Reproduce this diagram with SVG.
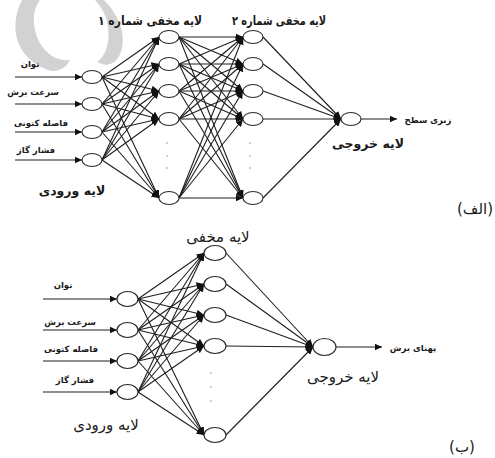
<svg xmlns="http://www.w3.org/2000/svg" width="495" height="458" viewBox="0 0 495 458">
  <style>
    .node { fill: #ffffff; stroke: #2a2a2a; stroke-width: 1.1; }
    .edge { stroke: #1e1e1e; stroke-width: 1.1; fill: none; marker-end: url(#arrow); }
    .lbl { font-family: "DejaVu Sans", "Noto Sans", sans-serif; fill: #1a1a1a; text-anchor: middle; }
    .small { font-size: 8.5px; font-weight: bold; }
    .layer { font-size: 12.5px; font-weight: bold; }
    .layerB { font-size: 15px; }
    .dot { fill: #c4c4c4; }
    .mark { fill: #d2d2d2; }
  </style>
  <defs>
    <marker id="arrow" markerUnits="userSpaceOnUse" markerWidth="8" markerHeight="7" refX="7.5" refY="3.5" orient="auto">
      <path d="M0,0 L7.5,3.5 L0,7 z" fill="#111"/>
    </marker>
  </defs>

  <rect width="495" height="458" fill="#ffffff"/>

  <!-- light logo shapes in the top-left corner -->
  <g id="logo">
    <path class="mark" d="M22,0 C8,28 16,58 48,70 C58,73 66,68 70,60 C50,62 36,44 34,24 C33,12 36,5 40,0 Z"/>
    <path class="mark" d="M104,0 C122,18 128,42 118,58 C112,66 104,66 97,62 C106,56 110,42 108,28 C107,16 102,8 95,0 Z"/>
  </g>

  <!-- ===================== network (a) ===================== -->
  <g id="connectors-a">
    <!-- input arrows -->
    <line class="edge" x1="15" y1="77" x2="82" y2="77"/>
    <line class="edge" x1="15" y1="104" x2="82" y2="104"/>
    <line class="edge" x1="15" y1="132" x2="82" y2="132"/>
    <line class="edge" x1="15" y1="160" x2="82" y2="160"/>
    <!-- input -> hidden 1 -->
    <line class="edge" x1="102" y1="77" x2="159" y2="37"/>
    <line class="edge" x1="102" y1="77" x2="159" y2="64"/>
    <line class="edge" x1="102" y1="77" x2="159" y2="91"/>
    <line class="edge" x1="102" y1="77" x2="159" y2="119"/>
    <line class="edge" x1="102" y1="77" x2="159" y2="198"/>
    <line class="edge" x1="102" y1="104" x2="159" y2="37"/>
    <line class="edge" x1="102" y1="104" x2="159" y2="64"/>
    <line class="edge" x1="102" y1="104" x2="159" y2="91"/>
    <line class="edge" x1="102" y1="104" x2="159" y2="119"/>
    <line class="edge" x1="102" y1="104" x2="159" y2="198"/>
    <line class="edge" x1="102" y1="132" x2="159" y2="37"/>
    <line class="edge" x1="102" y1="132" x2="159" y2="64"/>
    <line class="edge" x1="102" y1="132" x2="159" y2="91"/>
    <line class="edge" x1="102" y1="132" x2="159" y2="119"/>
    <line class="edge" x1="102" y1="132" x2="159" y2="198"/>
    <line class="edge" x1="102" y1="160" x2="159" y2="37"/>
    <line class="edge" x1="102" y1="160" x2="159" y2="64"/>
    <line class="edge" x1="102" y1="160" x2="159" y2="91"/>
    <line class="edge" x1="102" y1="160" x2="159" y2="119"/>
    <line class="edge" x1="102" y1="160" x2="159" y2="198"/>
    <!-- hidden 1 -> hidden 2 -->
    <line class="edge" x1="179" y1="37" x2="243" y2="37"/>
    <line class="edge" x1="179" y1="37" x2="243" y2="64"/>
    <line class="edge" x1="179" y1="37" x2="243" y2="91"/>
    <line class="edge" x1="179" y1="37" x2="243" y2="119"/>
    <line class="edge" x1="179" y1="37" x2="243" y2="198"/>
    <line class="edge" x1="179" y1="64" x2="243" y2="37"/>
    <line class="edge" x1="179" y1="64" x2="243" y2="64"/>
    <line class="edge" x1="179" y1="64" x2="243" y2="91"/>
    <line class="edge" x1="179" y1="64" x2="243" y2="119"/>
    <line class="edge" x1="179" y1="64" x2="243" y2="198"/>
    <line class="edge" x1="179" y1="91" x2="243" y2="37"/>
    <line class="edge" x1="179" y1="91" x2="243" y2="64"/>
    <line class="edge" x1="179" y1="91" x2="243" y2="91"/>
    <line class="edge" x1="179" y1="91" x2="243" y2="119"/>
    <line class="edge" x1="179" y1="91" x2="243" y2="198"/>
    <line class="edge" x1="179" y1="119" x2="243" y2="37"/>
    <line class="edge" x1="179" y1="119" x2="243" y2="64"/>
    <line class="edge" x1="179" y1="119" x2="243" y2="91"/>
    <line class="edge" x1="179" y1="119" x2="243" y2="119"/>
    <line class="edge" x1="179" y1="119" x2="243" y2="198"/>
    <line class="edge" x1="179" y1="198" x2="243" y2="37"/>
    <line class="edge" x1="179" y1="198" x2="243" y2="64"/>
    <line class="edge" x1="179" y1="198" x2="243" y2="91"/>
    <line class="edge" x1="179" y1="198" x2="243" y2="119"/>
    <line class="edge" x1="179" y1="198" x2="243" y2="198"/>
    <!-- hidden 2 -> output -->
    <line class="edge" x1="263" y1="37" x2="341" y2="119"/>
    <line class="edge" x1="263" y1="64" x2="341" y2="119"/>
    <line class="edge" x1="263" y1="91" x2="341" y2="119"/>
    <line class="edge" x1="263" y1="119" x2="341" y2="119"/>
    <line class="edge" x1="263" y1="198" x2="341" y2="119"/>
    <!-- output arrow -->
    <line class="edge" x1="361" y1="119" x2="397" y2="119"/>
  </g>

  <g id="a-in-1"><ellipse class="node" cx="92" cy="77" rx="10" ry="6.5"/><text class="lbl small" x="30" y="67">توان</text></g>
  <g id="a-in-2"><ellipse class="node" cx="92" cy="104" rx="10" ry="6.5"/><text class="lbl small" x="33" y="95">سرعت برش</text></g>
  <g id="a-in-3"><ellipse class="node" cx="92" cy="132" rx="10" ry="6.5"/><text class="lbl small" x="41" y="126">فاصله کتونی</text></g>
  <g id="a-in-4"><ellipse class="node" cx="92" cy="160" rx="10" ry="6.5"/><text class="lbl small" x="36" y="153">فشار گاز</text></g>

  <g id="a-h1-1"><ellipse class="node" cx="169" cy="37" rx="10" ry="6.5"/></g>
  <g id="a-h1-2"><ellipse class="node" cx="169" cy="64" rx="10" ry="6.5"/></g>
  <g id="a-h1-3"><ellipse class="node" cx="169" cy="91" rx="10" ry="6.5"/></g>
  <g id="a-h1-4"><ellipse class="node" cx="169" cy="119" rx="10" ry="6.5"/></g>
  <g id="a-h1-5"><ellipse class="node" cx="169" cy="198" rx="10" ry="6.5"/></g>
  <g id="a-h1-dots"><circle class="dot" cx="167" cy="143" r="1.1"/><circle class="dot" cx="167" cy="156" r="1.1"/><circle class="dot" cx="167" cy="168" r="1.1"/></g>

  <g id="a-h2-1"><ellipse class="node" cx="253" cy="37" rx="10" ry="6.5"/></g>
  <g id="a-h2-2"><ellipse class="node" cx="253" cy="64" rx="10" ry="6.5"/></g>
  <g id="a-h2-3"><ellipse class="node" cx="253" cy="91" rx="10" ry="6.5"/></g>
  <g id="a-h2-4"><ellipse class="node" cx="253" cy="119" rx="10" ry="6.5"/></g>
  <g id="a-h2-5"><ellipse class="node" cx="253" cy="198" rx="10" ry="6.5"/></g>
  <g id="a-h2-dots"><circle class="dot" cx="250" cy="143" r="1.1"/><circle class="dot" cx="250" cy="156" r="1.1"/><circle class="dot" cx="250" cy="168" r="1.1"/></g>

  <g id="a-out"><ellipse class="node" cx="351" cy="119" rx="10" ry="6.5"/><text class="lbl small" x="428" y="123">زبری سطح</text></g>

  <g id="a-labels">
    <text class="lbl layer" x="150" y="25" textLength="104" lengthAdjust="spacingAndGlyphs">لایه مخفی شماره ۱</text>
    <text class="lbl layer" x="279" y="25" textLength="94" lengthAdjust="spacingAndGlyphs">لایه مخفی شماره ۲</text>
    <text class="lbl layer" x="72" y="195">لایه ورودی</text>
    <text class="lbl layer" x="368" y="148">لایه خروجی</text>
    <text class="lbl layerB" x="475" y="214">(الف)</text>
  </g>

  <!-- ===================== network (b) ===================== -->
  <g id="connectors-b">
    <line class="edge" x1="43" y1="299" x2="117" y2="299"/>
    <line class="edge" x1="43" y1="330" x2="117" y2="330"/>
    <line class="edge" x1="43" y1="361" x2="117" y2="361"/>
    <line class="edge" x1="43" y1="392" x2="117" y2="392"/>
    <!-- input -> hidden -->
    <line class="edge" x1="138" y1="299" x2="204" y2="253"/>
    <line class="edge" x1="138" y1="299" x2="204" y2="284"/>
    <line class="edge" x1="138" y1="299" x2="204" y2="315"/>
    <line class="edge" x1="138" y1="299" x2="204" y2="346"/>
    <line class="edge" x1="138" y1="299" x2="204" y2="435"/>
    <line class="edge" x1="138" y1="330" x2="204" y2="253"/>
    <line class="edge" x1="138" y1="330" x2="204" y2="284"/>
    <line class="edge" x1="138" y1="330" x2="204" y2="315"/>
    <line class="edge" x1="138" y1="330" x2="204" y2="346"/>
    <line class="edge" x1="138" y1="330" x2="204" y2="435"/>
    <line class="edge" x1="138" y1="361" x2="204" y2="253"/>
    <line class="edge" x1="138" y1="361" x2="204" y2="284"/>
    <line class="edge" x1="138" y1="361" x2="204" y2="315"/>
    <line class="edge" x1="138" y1="361" x2="204" y2="346"/>
    <line class="edge" x1="138" y1="361" x2="204" y2="435"/>
    <line class="edge" x1="138" y1="392" x2="204" y2="253"/>
    <line class="edge" x1="138" y1="392" x2="204" y2="284"/>
    <line class="edge" x1="138" y1="392" x2="204" y2="315"/>
    <line class="edge" x1="138" y1="392" x2="204" y2="346"/>
    <line class="edge" x1="138" y1="392" x2="204" y2="435"/>
    <!-- hidden -> output -->
    <line class="edge" x1="226" y1="253" x2="313" y2="347"/>
    <line class="edge" x1="226" y1="284" x2="313" y2="347"/>
    <line class="edge" x1="226" y1="315" x2="313" y2="347"/>
    <line class="edge" x1="226" y1="346" x2="313" y2="347"/>
    <line class="edge" x1="226" y1="435" x2="313" y2="347"/>
    <line class="edge" x1="336" y1="347" x2="382" y2="347"/>
  </g>

  <g id="b-in-1"><ellipse class="node" cx="127.5" cy="299" rx="10.5" ry="7.5"/><text class="lbl small" x="63" y="288">توان</text></g>
  <g id="b-in-2"><ellipse class="node" cx="127.5" cy="330" rx="10.5" ry="7.5"/><text class="lbl small" x="70" y="325">سرعت برش</text></g>
  <g id="b-in-3"><ellipse class="node" cx="127.5" cy="361" rx="10.5" ry="7.5"/><text class="lbl small" x="71" y="352">فاصله کتونی</text></g>
  <g id="b-in-4"><ellipse class="node" cx="127.5" cy="392" rx="10.5" ry="7.5"/><text class="lbl small" x="75" y="383">فشار گاز</text></g>

  <g id="b-h-1"><ellipse class="node" cx="215" cy="253" rx="11" ry="7.5"/></g>
  <g id="b-h-2"><ellipse class="node" cx="215" cy="284" rx="11" ry="7.5"/></g>
  <g id="b-h-3"><ellipse class="node" cx="215" cy="315" rx="11" ry="7.5"/></g>
  <g id="b-h-4"><ellipse class="node" cx="215" cy="346" rx="11" ry="7.5"/></g>
  <g id="b-h-5"><ellipse class="node" cx="215" cy="435" rx="11" ry="7.5"/></g>
  <g id="b-h-dots"><circle class="dot" cx="211" cy="373" r="1.1"/><circle class="dot" cx="211" cy="387" r="1.1"/><circle class="dot" cx="211" cy="401" r="1.1"/></g>

  <g id="b-out"><ellipse class="node" cx="324.5" cy="347" rx="11.5" ry="8.5"/><text class="lbl small" x="413" y="351">پهنای برش</text></g>

  <g id="b-labels">
    <text class="lbl layerB" x="218" y="242">لایه مخفی</text>
    <text class="lbl layerB" x="106" y="430">لایه ورودی</text>
    <text class="lbl layerB" x="343" y="382">لایه خروجی</text>
    <text class="lbl layerB" x="462" y="452">(ب)</text>
  </g>
</svg>
